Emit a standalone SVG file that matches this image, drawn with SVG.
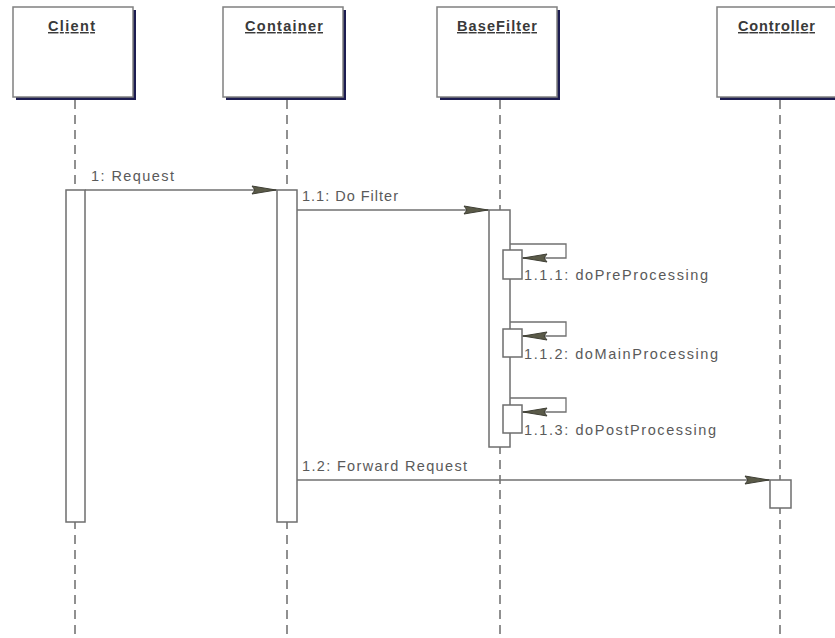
<svg xmlns="http://www.w3.org/2000/svg" width="835" height="638" viewBox="0 0 835 638">
  <style>
    .box { fill: #ffffff; stroke: #808080; stroke-width: 1.5; }
    .shadow { fill: #1c1c50; }
    .title { font-family: "Liberation Sans", Arial, sans-serif; font-size: 14.5px; font-weight: bold; fill: #3a3a3a; text-decoration: underline; }
    .life { stroke: #909090; stroke-width: 2; stroke-dasharray: 9 6; fill: none; }
    .act { fill: #ffffff; stroke: #6e6e6e; stroke-width: 1.5; }
    .msg { stroke: #707070; stroke-width: 1.3; fill: none; }
    .lbl { font-family: "Liberation Sans", Arial, sans-serif; font-size: 14.5px; fill: #5a5a5a; }
  </style>
  <defs>
    <marker id="head" viewBox="0 0 26 12" refX="26" refY="6" markerWidth="26" markerHeight="12" markerUnits="userSpaceOnUse" orient="auto">
      <path d="M1,2 L8,3.2 L25,6 L8,8.8 L1,10 L4,6 Z" fill="#5a5a48" stroke="#3e3e34" stroke-width="1"/>
    </marker>
  </defs>
  <rect width="835" height="638" fill="#ffffff"/>

  <!-- lifelines -->
  <g id="lifelines">
    <line class="life" x1="75" y1="100" x2="75" y2="638"/>
    <line class="life" x1="287" y1="100" x2="287" y2="638"/>
    <line class="life" x1="500" y1="100" x2="500" y2="638"/>
    <line class="life" x1="780" y1="100" x2="780" y2="638"/>
  </g>

  <g id="client">
    <rect class="shadow" x="16" y="10" width="120" height="90"/>
    <rect class="box" x="13" y="7" width="120" height="90"/>
    <text class="title" x="48" y="31" textLength="47" lengthAdjust="spacing">Client</text>
    <rect class="act" x="66" y="190" width="19" height="332"/>
  </g>

  <g id="container">
    <rect class="shadow" x="226" y="10" width="120" height="90"/>
    <rect class="box" x="223" y="7" width="120" height="90"/>
    <text class="title" x="245" y="31" textLength="78" lengthAdjust="spacing">Container</text>
    <rect class="act" x="277" y="190" width="20" height="332"/>
  </g>

  <g id="basefilter">
    <rect class="shadow" x="440" y="10" width="120" height="90"/>
    <rect class="box" x="437" y="7" width="120" height="90"/>
    <text class="title" x="457" y="31" textLength="80" lengthAdjust="spacing">BaseFilter</text>
    <rect class="act" x="489" y="210" width="21" height="237"/>
    <rect class="act" x="503" y="250" width="19" height="29"/>
    <rect class="act" x="503" y="329" width="19" height="28"/>
    <rect class="act" x="503" y="405" width="19" height="28"/>
  </g>

  <g id="controller">
    <rect class="shadow" x="720" y="10" width="120" height="90"/>
    <rect class="box" x="717" y="7" width="120" height="90"/>
    <text class="title" x="738" y="31" textLength="77" lengthAdjust="spacing">Controller</text>
    <rect class="act" x="770" y="480" width="21" height="28"/>
  </g>

  <!-- messages -->
  <g id="connectors">
    <line class="msg" x1="85" y1="190" x2="277" y2="190" marker-end="url(#head)"/>
    <line class="msg" x1="297" y1="210" x2="489" y2="210" marker-end="url(#head)"/>
    <polyline class="msg" points="510,244 566,244 566,258 522,258" marker-end="url(#head)"/>
    <polyline class="msg" points="510,322 566,322 566,336 522,336" marker-end="url(#head)"/>
    <polyline class="msg" points="510,398 566,398 566,412 522,412" marker-end="url(#head)"/>
    <line class="msg" x1="297" y1="480" x2="770" y2="480" marker-end="url(#head)"/>
  </g>

  <g id="labels">
    <text class="lbl" x="91" y="181" textLength="83" lengthAdjust="spacing">1: Request</text>
    <text class="lbl" x="302" y="201" textLength="96" lengthAdjust="spacing">1.1: Do Filter</text>
    <text class="lbl" x="524" y="280" textLength="184" lengthAdjust="spacing">1.1.1: doPreProcessing</text>
    <text class="lbl" x="524" y="359" textLength="194" lengthAdjust="spacing">1.1.2: doMainProcessing</text>
    <text class="lbl" x="524" y="435" textLength="192" lengthAdjust="spacing">1.1.3: doPostProcessing</text>
    <text class="lbl" x="302" y="471" textLength="165" lengthAdjust="spacing">1.2: Forward Request</text>
  </g>
</svg>
